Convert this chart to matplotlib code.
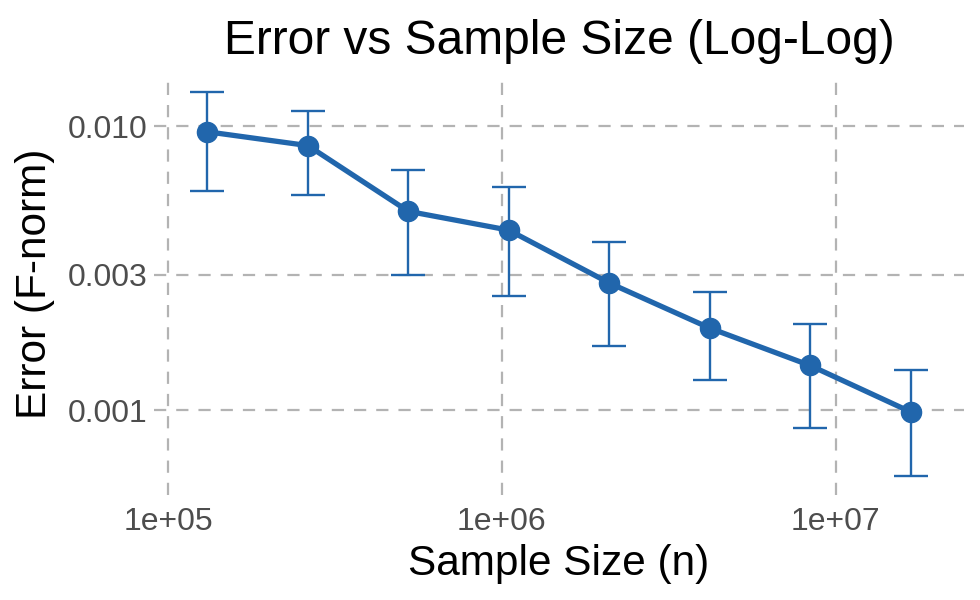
#!/usr/bin/env python3
"""Error vs sample size on log-log axes, with +/- 1 sd error bars."""

import numpy as np
import matplotlib
matplotlib.use("Agg")
import matplotlib.pyplot as plt
from matplotlib.ticker import FixedLocator, FixedFormatter, NullLocator

# sample sizes 2^17 .. 2^24
sample_sizes = [131072, 262144, 524288, 1048576, 2097152, 4194304, 8388608, 16777216]
mean_error = [0.00956, 0.00855, 0.00502, 0.00431, 0.00281, 0.00195, 0.00144, 0.000989]
sd_error = [0.00362, 0.00281, 0.00202, 0.00179, 0.00112, 0.00067, 0.00057, 0.00040]

x_ticks = [1e5, 1e6, 1e7]
x_tick_labels = ["1e+05", "1e+06", "1e+07"]
y_ticks = [0.001, 0.003, 0.010]
y_tick_labels = ["0.001", "0.003", "0.010"]

BLUE = "#2166AC"
GRID = "#B3B3B3"
TEXT = "#4D4D4D"

plt.rcParams["font.family"] = ["Liberation Sans", "DejaVu Sans"]

fig = plt.figure(figsize=(9.8, 6.0), dpi=100)
W, H = 980, 600
left, right, top, bottom = 154, 964, 73, 495
ax = fig.add_axes([left / W, 1 - bottom / H, (right - left) / W, (bottom - top) / H])

x = np.array(sample_sizes, dtype=float)
y = np.array(mean_error)
sd = np.array(sd_error)

ax.errorbar(x, y, yerr=sd, fmt="none", ecolor=BLUE, elinewidth=1.7,
            capsize=12, capthick=1.7, zorder=3)
ax.plot(x, y, color=BLUE, linewidth=3.8, marker="o", markersize=14.5,
        zorder=4, solid_capstyle="butt")

ax.set_xscale("log")
ax.set_yscale("log")

# ggplot-like 5% expansion in log space (error bar half width 0.05 decades)
lx = np.log10(x)
xlo, xhi = lx.min() - 0.05, lx.max() + 0.05
xpad = 0.05 * (xhi - xlo)
ax.set_xlim(10 ** (xlo - xpad), 10 ** (xhi + xpad))
ly_lo = np.log10(y - sd).min()
ly_hi = np.log10(y + sd).max()
ypad = 0.05 * (ly_hi - ly_lo)
ax.set_ylim(10 ** (ly_lo - ypad), 10 ** (ly_hi + ypad))

ax.xaxis.set_major_locator(FixedLocator(x_ticks))
ax.xaxis.set_major_formatter(FixedFormatter(x_tick_labels))
ax.xaxis.set_minor_locator(NullLocator())
ax.yaxis.set_major_locator(FixedLocator(y_ticks))
ax.yaxis.set_major_formatter(FixedFormatter(y_tick_labels))
ax.yaxis.set_minor_locator(NullLocator())

ax.grid(True, which="major", color=GRID, linewidth=1.6, linestyle=(0, (5.5, 4.5)))
ax.set_axisbelow(True)
for s in ax.spines.values():
    s.set_visible(False)
ax.tick_params(axis="both", length=0, labelsize=23, labelcolor=TEXT)
ax.tick_params(axis="x", pad=9)
ax.tick_params(axis="y", pad=5)

ax.set_xlabel("Sample Size (n)", fontsize=30.5, color="black", labelpad=5)
ax.set_ylabel("Error (F-norm)", fontsize=30.5, color="black", labelpad=9)
ax.set_title("Error vs Sample Size (Log-Log)", fontsize=34.5, color="black", pad=14)

fig.savefig("out.png", dpi=100)
